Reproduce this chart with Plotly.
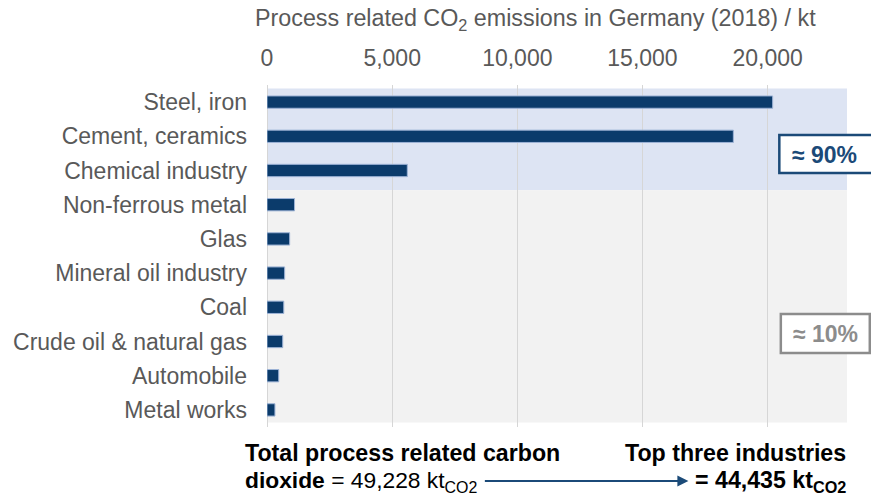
import plotly.graph_objects as go

# Process related CO2 emissions in Germany (2018), kt
industries = [
    "Steel, iron",
    "Cement, ceramics",
    "Chemical industry",
    "Non-ferrous metal",
    "Glas",
    "Mineral oil industry",
    "Coal",
    "Crude oil & natural gas",
    "Automobile",
    "Metal works",
]
emissions_kt = [20200, 18630, 5605, 1100, 905, 705, 670, 628, 468, 317]
x_ticks = [0, 5000, 10000, 15000, 20000]
x_tick_labels = ["0", "5,000", "10,000", "15,000", "20,000"]

total_kt = 49228
top_three_kt = 44435

# layout geometry (pixels)
W, H = 871, 496
L, R, T, B = 266.5, 24.3, 85, 69
PW, PH = W - L - R, H - T - B

def px(x):
    return (x - L) / PW

def py(y):
    return 1 - (y - T) / PH

FONT = "Arial, Liberation Sans, sans-serif"
BAR = "#0b3b6b"
DARK_BLUE = "#1b4a78"
GREY_TXT = "#595959"
BOX_GREY = "#8c8c8c"

fig = go.Figure(
    go.Bar(
        x=emissions_kt,
        y=industries,
        orientation="h",
        width=0.36,
        marker=dict(color=BAR, line=dict(color="#9db3d6", width=1)),
        hoverinfo="x+y",
    )
)

shapes = [
    # top-three block and remaining block
    dict(type="rect", xref="paper", yref="y", x0=0, x1=1, y0=-0.4, y1=2.58,
         fillcolor="#dde4f3", line_width=0, layer="below"),
    dict(type="rect", xref="paper", yref="y", x0=0, x1=1, y0=2.58, y1=9.37,
         fillcolor="#f2f2f2", line_width=0, layer="below"),
    # share boxes
    dict(type="rect", xref="paper", yref="paper",
         x0=px(779), x1=px(880), y0=py(173), y1=py(135),
         fillcolor="white", line=dict(color=DARK_BLUE, width=2.5)),
    dict(type="rect", xref="paper", yref="paper",
         x0=px(780.5), x1=px(869.5), y0=py(353), y1=py(314),
         fillcolor="white", line=dict(color=BOX_GREY, width=2.5)),
]

arrow_start, arrow_end = 483, 688


def label(text, x, y, size, color, xanchor="center", yanchor="middle", align="center"):
    return dict(text=text, xref="paper", yref="paper", x=px(x), y=py(y),
                xanchor=xanchor, yanchor=yanchor, align=align, showarrow=False,
                font=dict(size=size, color=color, family=FONT))


annotations = [
    label("Process related CO<sub>2</sub> emissions in Germany (2018) / kt",
          535, 20, 23.3, GREY_TXT),
    label("<b>≈ 90%</b>", 824.5, 155, 23, DARK_BLUE),
    label("<b>≈ 10%</b>", 825.5, 334, 23, BOX_GREY),
    label("<b>Total process related carbon</b>", 242, 453, 23.2, "black",
          xanchor="left", align="left"),
    label(f"<b>dioxide</b> = {total_kt:,} kt<sub>CO2</sub>", 242, 481.5, 22.8, "black",
          xanchor="left", align="left"),
    label("<b>Top three industries</b>", 848, 453, 23.2, "black",
          xanchor="right", align="right"),
    label(f"<b>= {top_three_kt:,} kt<sub>CO2</sub></b>", 848, 481.5, 23.2, "black",
          xanchor="right", align="right"),
    dict(text="", xref="paper", yref="paper", x=px(arrow_end), y=py(481),
         ax=-(arrow_end - arrow_start), ay=0,
         showarrow=True, arrowhead=2, arrowsize=1.1, arrowwidth=2,
         arrowcolor=DARK_BLUE),
]

fig.update_layout(
    width=W, height=H,
    margin=dict(l=L, r=R, t=T, b=B, pad=0),
    paper_bgcolor="white",
    plot_bgcolor="white",
    showlegend=False,
    shapes=shapes,
    annotations=annotations,
    font=dict(family=FONT, size=23, color=GREY_TXT),
    xaxis=dict(
        side="top",
        range=[0, 23170],
        tickvals=x_ticks,
        ticktext=x_tick_labels,
        showgrid=True,
        gridcolor="#d6d6d6",
        gridwidth=1,
        zeroline=True,
        zerolinecolor="#d6d6d6",
        zerolinewidth=1,
        showline=False,
        ticks="",
        ticklabelstandoff=13,
        tickfont=dict(size=23, color=GREY_TXT, family=FONT),
        fixedrange=True,
    ),
    yaxis=dict(
        categoryorder="array",
        categoryarray=industries,
        range=[9.5, -0.5],
        showgrid=False,
        zeroline=False,
        ticks="",
        ticklabelstandoff=19,
        tickfont=dict(size=23, color=GREY_TXT, family=FONT),
        fixedrange=True,
    ),
)

fig.write_html("out.html")
